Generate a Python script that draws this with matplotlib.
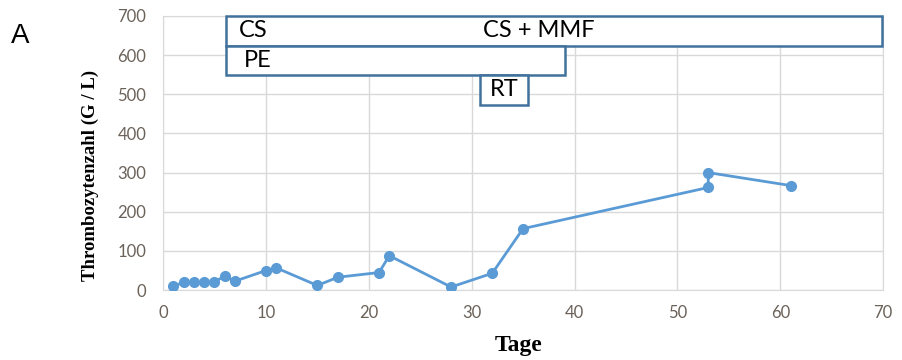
import matplotlib
matplotlib.use("Agg")
from matplotlib import pyplot as plt
from matplotlib.patches import Rectangle

# platelet counts over time
days = [1, 2, 3, 4, 5, 6, 7, 10, 11, 15, 17, 21, 22, 28, 32, 35, 53, 53, 61]
platelets = [10, 20, 20, 20, 22, 35, 23, 50, 57, 12, 33, 45, 88, 8, 43, 157, 262, 300, 267]

# therapy periods: (label, start day, end day, y bottom, y top)
therapies = [
    ("CS + MMF", 6.1, 69.9, 624, 700),
    ("PE", 6.1, 39.1, 550, 624),
    ("RT", 30.8, 35.5, 473, 550),
]

xticks = list(range(0, 71, 10))
yticks = list(range(0, 701, 100))

line_color = "#5B9BD5"
box_color = "#41719C"
label_font = "Lato"

fig = plt.figure(figsize=(9.03, 3.6), dpi=100)
ax = fig.add_axes([0.1805, 0.194, 0.7975, 0.762])

ax.plot(days, platelets, color=line_color, linewidth=2, marker="o", markersize=7, zorder=3)

ax.set_xlim(0, 70)
ax.set_ylim(0, 700)
ax.set_xticks(xticks)
ax.set_yticks(yticks)
ax.grid(True, color="#D9D9D9", linewidth=1)
ax.set_axisbelow(True)
for side in ax.spines.values():
    side.set_color("#D9D9D9")
ax.tick_params(length=0, labelsize=12, labelcolor="#6B6259")
ax.tick_params(axis="y", pad=12)
ax.tick_params(axis="x", pad=11)
for lbl in ax.get_xticklabels() + ax.get_yticklabels():
    lbl.set_family(label_font)

# therapy bars on top of the plot
for name, x0, x1, y0, y1 in therapies:
    ax.add_patch(Rectangle((x0, y0), x1 - x0, y1 - y0, facecolor="white",
                           edgecolor=box_color, linewidth=1.8, zorder=4, clip_on=False))

ax.text(7.4, 662, "CS", fontsize=17, family=label_font, va="center", ha="left", zorder=5)
ax.text(36.5, 662, "CS + MMF", fontsize=17, family=label_font, va="center", ha="center", zorder=5)
ax.text(7.9, 587, "PE", fontsize=17, family=label_font, va="center", ha="left", zorder=5)
ax.text(33.15, 511, "RT", fontsize=17, family=label_font, va="center", ha="center", zorder=5)

ax.set_xlabel("Tage", family="Liberation Serif", fontweight="bold", fontsize=17)
ax.xaxis.set_label_coords(0.494, -0.2)
ax.xaxis.label.set_va("center")
ax.set_ylabel("Thrombozytenzahl (G / L)", family="Liberation Serif", fontweight="bold",
              fontsize=13.5)
ax.yaxis.set_label_coords(-0.101, 0.42)
ax.yaxis.label.set_va("center")

fig.text(0.012, 0.88, "A", fontsize=20, family="Liberation Sans")

fig.savefig("out.png", dpi=100)
